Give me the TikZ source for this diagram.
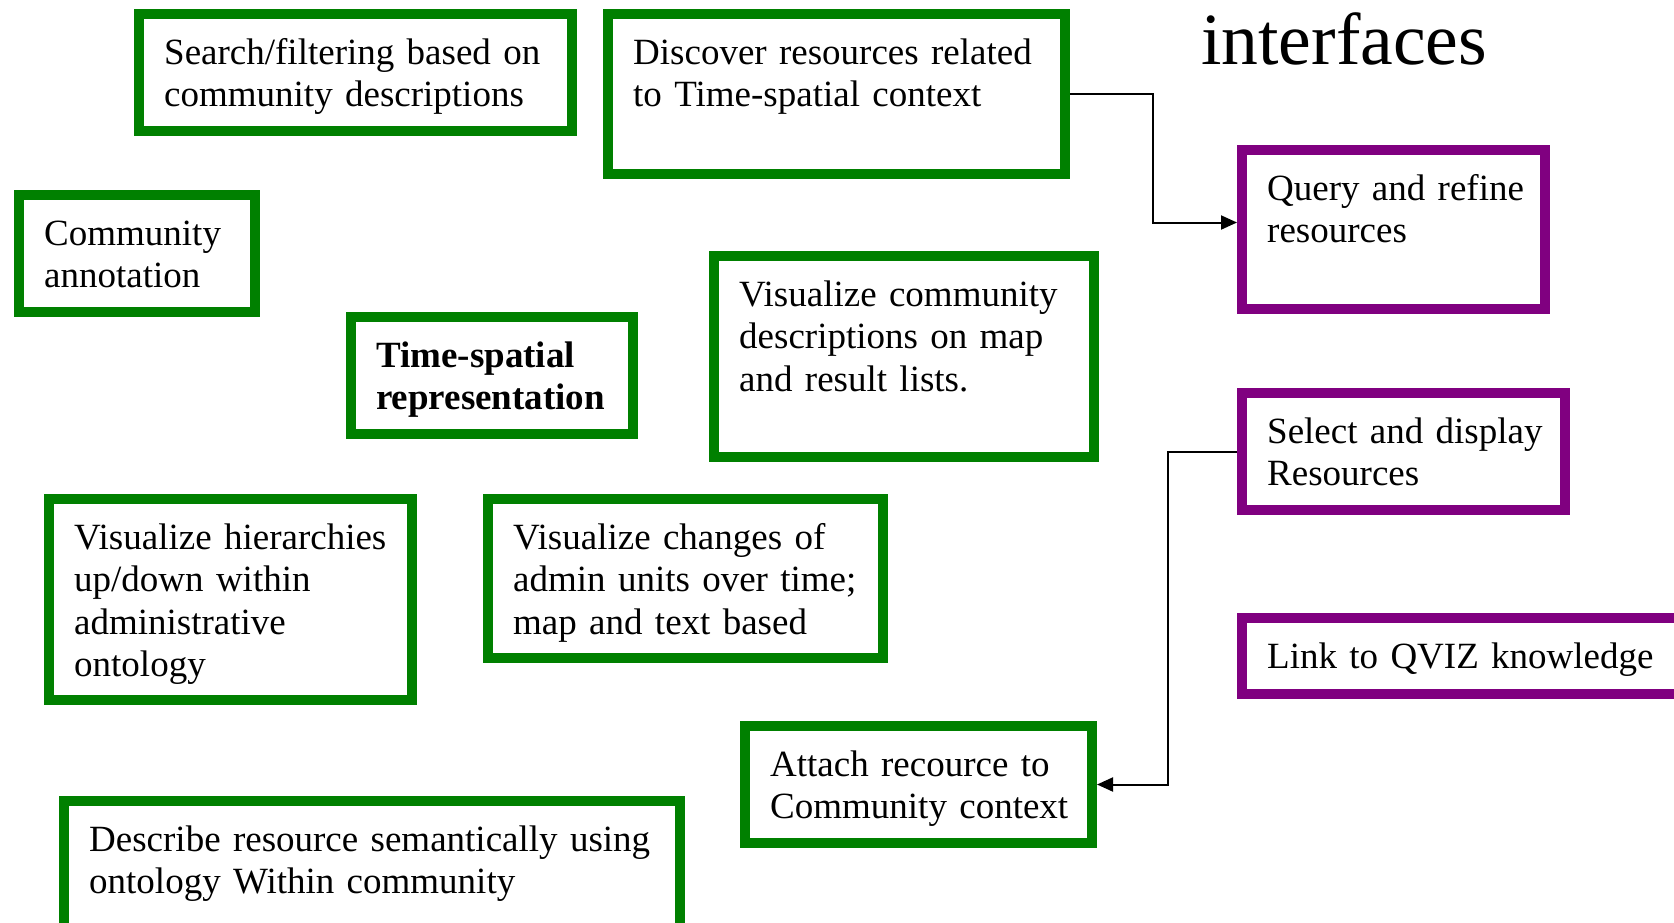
\documentclass[tikz,border=0pt]{standalone}
\usepackage{fontspec}
\setmainfont{Liberation Serif}
\usetikzlibrary{arrows.meta,fit}
\definecolor{boxgreen}{HTML}{008000}
\definecolor{boxpurple}{HTML}{800080}
\tikzset{
  box/.style={draw=#1, line width=10pt, inner sep=0pt},
  txt/.style={anchor=base west, inner sep=0pt, text width=640pt, align=left},
  conn/.style={line width=2pt, -{Triangle[length=16pt,width=14pt]}}
}
\begin{document}
\begin{tikzpicture}[x=1pt, y=-1pt, font=\fontsize{37}{42.5}\selectfont]
  \useasboundingbox (0,0) rectangle (1674,922);
  \clip (0,0) rectangle (1674,922);
  \foreach \n/\xa/\ya/\xb/\yb/\c/\s in {
      srch/134/9/577/136/boxgreen/{Search/filtering based on\\community descriptions},
      disc/603/9/1070/179/boxgreen/{Discover resources related\\to Time-spatial context},
      comm/14/190/260/317/boxgreen/{Community\\annotation},
      tsr/346/312/638/439/boxgreen/{\textbf{Time-spatial}\\\textbf{representation}},
      vcd/709/251/1099/462/boxgreen/{Visualize community\\descriptions on map\\and result lists.},
      qry/1237/145/1550/314/boxpurple/{Query and refine\\resources},
      sel/1237/388/1570/515/boxpurple/{Select and display\\Resources},
      lnk/1237/613/1690/699/boxpurple/{Link to QVIZ knowledge},
      vhi/44/494/417/705/boxgreen/{Visualize hierarchies\\up/down within\\administrative\\ontology},
      vch/483/494/888/663/boxgreen/{Visualize changes of\\admin units over time;\\map and text based},
      att/740/721/1097/848/boxgreen/{Attach recource to\\Community context},
      dsc/59/796/685/935/boxgreen/{Describe resource semantically using\\ontology Within community}}
  {
    \node[box=\c, fit={(\xa+5,\ya+5) (\xb-5,\yb-5)}] (\n) {};
    \node[txt] (\n-t) at (\xa+30,\ya+55) {\s};
  }
  \node[anchor=base west, inner sep=0pt, font=\fontsize{73.6}{80}\selectfont] (title) at (1201,64) {interfaces};
  \draw[conn] (disc.east) -- ++(83,0) |- ([yshift=7pt]qry.west);
  \draw[conn] (sel.west) -- ++(-69,0) |- (att.east);
\end{tikzpicture}
\end{document}
